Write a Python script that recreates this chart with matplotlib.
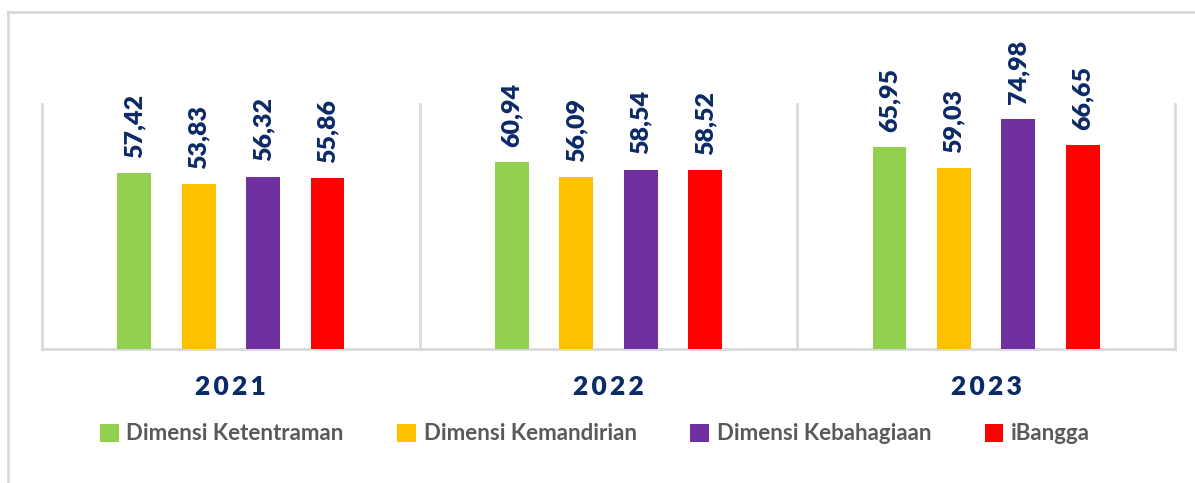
import matplotlib
matplotlib.use("Agg")
import matplotlib.pyplot as plt
import numpy as np
from matplotlib.patches import Patch
from matplotlib.lines import Line2D

years = ["2021", "2022", "2023"]
series = ["Dimensi Ketentraman", "Dimensi Kemandirian", "Dimensi Kebahagiaan", "iBangga"]
ketentraman = [57.42, 60.94, 65.95]
kemandirian = [53.83, 56.09, 59.03]
kebahagiaan = [56.32, 58.54, 74.98]
ibangga = [55.86, 58.52, 66.65]
colors = ["#92D050", "#FFC000", "#7030A0", "#FF0000"]
values = [ketentraman, kemandirian, kebahagiaan, ibangga]

W, H = 1195, 483
fig = plt.figure(figsize=(W / 100, H / 100), dpi=100)
fig.patch.set_facecolor("white")

FONT = "Lato"
navy = "#0B2A66"
grid_c = "#D9D9D9"

# outer border (left and top visible)
fig.add_artist(Line2D([8 / W, 8 / W], [0, 1 - 12 / H], transform=fig.transFigure, color=grid_c, lw=2))
fig.add_artist(Line2D([8 / W, 1], [1 - 12 / H, 1 - 12 / H], transform=fig.transFigure, color=grid_c, lw=2))

left, right, bottom, top = 42, 1175, 349, 104
ax = fig.add_axes([left / W, 1 - bottom / H, (right - left) / W, (bottom - top) / H])
ax.set_xlim(-0.5, 2.5)
ax.set_ylim(0, 80)
for s in ["top", "right", "left"]:
    ax.spines[s].set_visible(False)
ax.spines["bottom"].set_color(grid_c)
ax.spines["bottom"].set_linewidth(2)

x = np.arange(len(years))
step = 64.5 / 378
bw = 34 / 378
for i, (vals, c, name) in enumerate(zip(values, colors, series)):
    xs = x + (i - 1.5) * step
    ax.bar(xs, vals, width=bw, color=c, label=name, zorder=3)
    for xi, v in zip(xs, vals):
        ax.annotate(f"{v:.2f}".replace(".", ","), (xi, v), xytext=(0, 11), textcoords="offset points",
                    rotation=90, ha="center", va="bottom", fontsize=18, fontweight="heavy",
                    color=navy, family=FONT, annotation_clip=False)

# separators between categories
for b in [-0.5, 0.5, 1.5, 2.5]:
    ax.axvline(b, color=grid_c, lw=2, zorder=1, clip_on=False)

ax.set_yticks([])
ax.set_xticks(x)
ax.set_xticklabels(["\u2009".join(y) for y in years], fontsize=19, fontweight="heavy", color=navy, family=FONT)
ax.tick_params(axis="x", length=0, pad=19)

handles = [Patch(facecolor=c, edgecolor="none") for c in colors]
leg = fig.legend(handles, series, loc="center", bbox_to_anchor=(595 / W, 1 - 434 / H), ncol=4,
                 frameon=False, handlelength=0.85, handleheight=0.85, handletextpad=0.35, columnspacing=2.4,
                 prop={"family": FONT, "weight": "bold", "size": 16})
for t in leg.get_texts():
    t.set_color("#595959")

fig.savefig("out.png", dpi=100, facecolor="white")
